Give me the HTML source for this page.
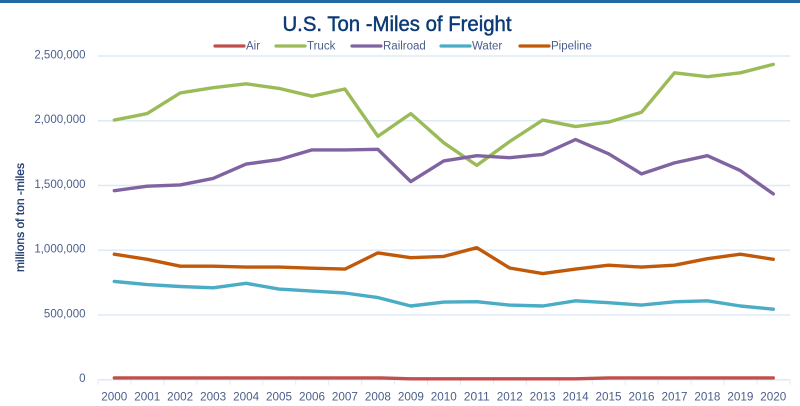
<!DOCTYPE html>
<html lang="en">
<head>
<meta charset="utf-8">
<title>U.S. Ton-Miles of Freight</title>
<style>
html,body{margin:0;padding:0;background:#fff;}
body{width:800px;height:406px;overflow:hidden;}
svg{display:block;font-family:"Liberation Sans",sans-serif;}
</style>
</head>
<body>
<svg id="chart" width="800" height="406" viewBox="0 0 800 406" xmlns="http://www.w3.org/2000/svg">
  <rect x="0" y="0" width="800" height="3" fill="#1f6aa5"/>
  <text x="397" y="31" text-anchor="middle" font-size="21" fill="#0b3a75" stroke="#0b3a75" stroke-width="0.45" textLength="229" lengthAdjust="spacingAndGlyphs">U.S. Ton -Miles of Freight</text>
  <text transform="translate(24,272) rotate(-90)" font-size="12" fill="#1f3a6e" stroke="#1f3a6e" stroke-width="0.3" textLength="109" lengthAdjust="spacingAndGlyphs">millions of ton -miles</text>
  <g id="grid"></g>
  <g id="yticks"></g>
  <g id="xaxis"></g>
  <g id="series"></g>
  <g id="legend"></g>
</svg>
<script>
const years = ["2000","2001","2002","2003","2004","2005","2006","2007","2008","2009","2010","2011","2012","2013","2014","2015","2016","2017","2018","2019","2020"];
const yTicks = [0, 500000, 1000000, 1500000, 2000000, 2500000];
const air = [15000,15000,15000,15000,15000,15000,15000,15000,15000,8000,8000,8000,8000,8000,8000,15000,15000,15000,15000,15000,15000];
const truck = [2005000,2055000,2215000,2255000,2285000,2250000,2190000,2245000,1880000,2055000,1830000,1655000,1840000,2005000,1955000,1990000,2065000,2370000,2340000,2370000,2435000];
const railroad = [1460000,1495000,1505000,1555000,1665000,1700000,1775000,1775000,1780000,1530000,1690000,1730000,1715000,1740000,1855000,1745000,1590000,1675000,1730000,1615000,1435000];
const water = [760000,735000,720000,710000,745000,700000,685000,670000,635000,570000,600000,603000,577000,570000,610000,595000,577000,602000,610000,570000,545000];
const pipeline = [970000,930000,877000,877000,870000,870000,862000,855000,980000,943000,953000,1020000,863000,820000,855000,885000,870000,885000,935000,970000,930000];
const seriesNames = ["Air","Truck","Railroad","Water","Pipeline"];
const seriesValues = [air, truck, railroad, water, pipeline];

const NS = "http://www.w3.org/2000/svg";
const colors = ["#c0504d","#9bbb59","#8064a2","#4bacc6","#c05a0a"];
const legendLineX = [214,275,351,440,519];
const plot = {left:98, right:790, top:56, bottom:379.8};
const yMax = 2500000;
const step = (plot.right - plot.left) / years.length;
function xScale(i){ return plot.left + step * (i + 0.5) - 0.2; }
function yScale(v){ return plot.bottom - (v / yMax) * (plot.bottom - plot.top); }
function make(tag, attrs, parent, text){
  const el = document.createElementNS(NS, tag);
  for (const k in attrs) el.setAttribute(k, attrs[k]);
  if (text !== undefined) el.textContent = text;
  parent.appendChild(el);
  return el;
}
const tickColor = "#4a5f8c";
const grid = document.getElementById("grid");
const yt = document.getElementById("yticks");
yTicks.forEach(function(t){
  const y = yScale(t);
  const line = make("line", {x1:plot.left, x2:plot.right, y1:y, y2:y, stroke:"#dfeaf7", "stroke-width":1.5}, grid);
  
  
  const label = make("text", {x:85.5, y:y + 2.4, "text-anchor":"end", "font-size":"11.5", fill:tickColor}, yt, t.toLocaleString("en-US"));
  
  
});
const xa = document.getElementById("xaxis");
for (let i = 0; i <= years.length; i++){
  const x = plot.left + step * i;
  const tick = make("line", {x1:x, x2:x, y1:plot.bottom, y2:plot.bottom + 5, stroke:"#dfeaf7", "stroke-width":1}, xa);
  
  
}
years.forEach(function(yr, i){
  const label = make("text", {x:xScale(i), y:400.5, "text-anchor":"middle", "font-size":"11.5", fill:tickColor, textLength:"26", lengthAdjust:"spacingAndGlyphs"}, xa, yr);
  
  
});
const sg = document.getElementById("series");
const drawOrder = [0,1,2,3,4];
drawOrder.forEach(function(si){
  const pts = seriesValues[si].map(function(v,i){ return xScale(i).toFixed(1) + "," + yScale(v).toFixed(1); }).join(" ");
  const line = make("polyline", {points:pts, fill:"none", stroke:colors[si], "stroke-width":3.4, "stroke-linejoin":"round", "stroke-linecap":"round"}, sg);
  
  
});
const lg = document.getElementById("legend");
seriesNames.forEach(function(name, i){
  const x = legendLineX[i];
  const swatch = make("line", {x1:x + 1, x2:x + 30, y1:46, y2:46, stroke:colors[i], "stroke-width":3.2, "stroke-linecap":"round"}, lg);
  
  
  const label = make("text", {x:x + 32, y:49.5, "font-size":"11.5", fill:tickColor}, lg, name);
  
  
});
</script>
</body>
</html>
